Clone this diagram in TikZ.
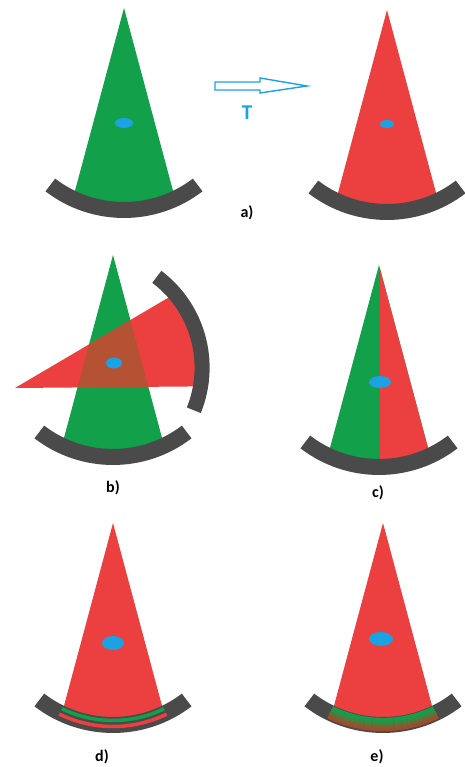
\documentclass[tikz,border=0pt]{standalone}
\usepackage{fontspec}
\setmainfont{Carlito}

\definecolor{conegreen}{RGB}{18,160,75}
\definecolor{conered}{RGB}{236,64,64}
\definecolor{overlapbrown}{RGB}{182,82,52}
\definecolor{bandgray}{RGB}{74,74,74}
\definecolor{dotblue}{RGB}{28,162,226}
\definecolor{stripebrown}{RGB}{168,72,42}

\begin{document}
\begin{tikzpicture}[x=1pt, y=1pt, every node/.style={font=\bfseries\fontsize{16}{16}\selectfont},
	cone/.pic={\fill (0,0) -- (-52.8,-197) -- (52.8,-197) -- cycle;},
	band/.pic={\fill[bandgray] ([shift={(232.5:113)}]0,-81) arc[start angle=232.5, end angle=307.5, radius=113] -- ++(307.5:16) arc[start angle=307.5, end angle=232.5, radius=129] -- cycle;},
	turned/.style={shift={(-98,-133)}, rotate=105.5, scale=0.94, transform shape}]
	\useasboundingbox (0,0) rectangle (465,767);
	% a) before and after T
	\begin{scope}[shift={(124,759)}]
		\pic[fill=conegreen] {cone};
		\pic {band};
		\fill[dotblue] (0,-115) ellipse [x radius=9, y radius=5];
	\end{scope}
	\begin{scope}[shift={(387,757)}]
		\pic[fill=conered] {cone};
		\pic {band};
		\fill[dotblue] (0,-114) ellipse [x radius=7, y radius=4];
	\end{scope}
	\draw[dotblue, line width=1.4, fill=white, line join=miter] (215,685) -- (260,685) -- (260,689) -- (307,681) -- (260,674) -- (260,677) -- (215,677) -- cycle;
	\node[dotblue, font=\bfseries\fontsize{21}{21}\selectfont] (tlabel) at (247,654) {T};
	\node (lbla) at (247,554) {a)};
	% b) rotated copy on top
	\begin{scope}[shift={(113,512)}]
		\pic[fill=conegreen] {cone};
		\pic {band};
		\begin{scope}[turned]
			\pic[fill=conered] {cone};
		\end{scope}
		\begin{scope}
			\clip (0,0) -- (-52.8,-197) -- (52.8,-197) -- cycle;
			\begin{scope}[turned]
				\pic[fill=overlapbrown] {cone};
			\end{scope}
		\end{scope}
		\begin{scope}[turned]
			\pic {band};
		\end{scope}
		\fill[dotblue] (1,-108) ellipse [x radius=8, y radius=5.5];
	\end{scope}
	\node (lblb) at (113,279) {b)};
	% c) half and half
	\begin{scope}[shift={(379,502)}]
		\pic[fill=conegreen] {cone};
		\begin{scope}
			\clip (1,10) rectangle (80,-220);
			\pic[fill=conered] {cone};
		\end{scope}
		\pic {band};
		\fill[dotblue] (1,-117) ellipse [x radius=11, y radius=6];
	\end{scope}
	\node (lblc) at (378,274) {c)};
	% d) two stripes in the band
	\begin{scope}[shift={(113,244)}]
		\pic[fill=conered] {cone};
		\pic {band};
		\draw[conegreen, line width=3.5] ([shift={(244:116.5)}]0,-81) arc[start angle=244, end angle=296, radius=116.5];
		\draw[conered, line width=3.5] ([shift={(244:122.5)}]0,-81) arc[start angle=244, end angle=296, radius=122.5];
		\fill[dotblue] (0,-120) ellipse [x radius=11, y radius=7];
	\end{scope}
	\node (lbld) at (102,10) {d)};
	% e) mixed stripe
	\begin{scope}[shift={(383,244)}]
		\pic[fill=conered] {cone};
		\pic {band};
		\foreach \i [evaluate=\i as \mix using {int(max(0,min(100,125-\i*11)))}] in {0,...,12}
			\draw[conegreen!\mix!stripebrown, line width=1.3] ([shift={(244:114.5+\i)}]0,-81) arc[start angle=244, end angle=296, radius=114.5+\i];
		\fill[dotblue] (-2,-116) ellipse [x radius=12, y radius=7];
	\end{scope}
	\node (lble) at (377,10) {e)};
\end{tikzpicture}
\end{document}
